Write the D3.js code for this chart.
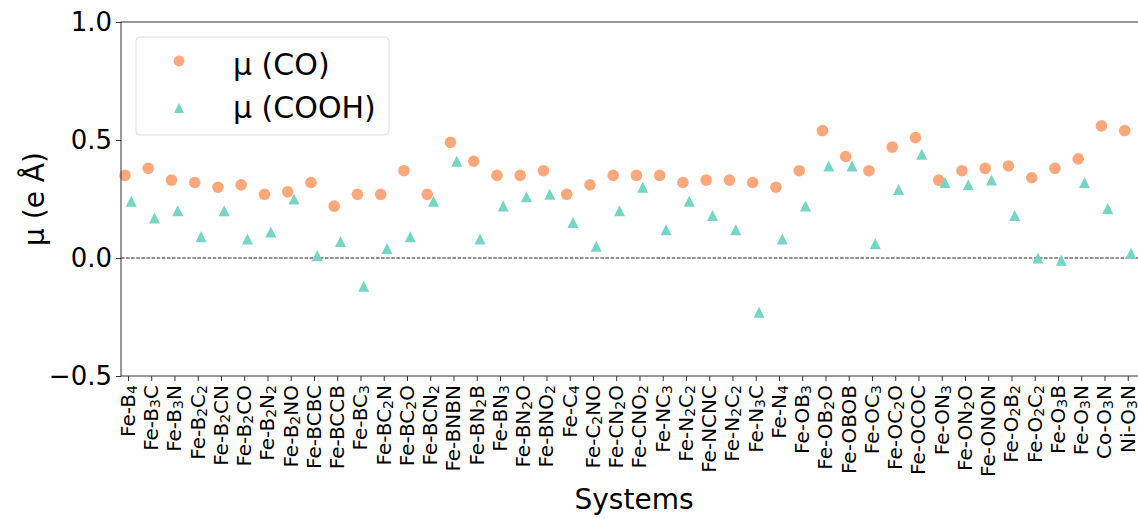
<!DOCTYPE html>
<html>
<head>
<meta charset="utf-8">
<script src="https://cdn.jsdelivr.net/npm/d3@7"></script>
<style>
  body { margin: 0; background: #fff; }
  svg { font-family: "DejaVu Sans", sans-serif; }
</style>
</head>
<body>
<svg id="drawing_region"></svg>
<script>
// digits in the system names are drawn as subscripts
const systems = ["Fe-B4", "Fe-B3C", "Fe-B3N", "Fe-B2C2", "Fe-B2CN", "Fe-B2CO", "Fe-B2N2", "Fe-B2NO",
    "Fe-BCBC", "Fe-BCCB", "Fe-BC3", "Fe-BC2N", "Fe-BC2O", "Fe-BCN2", "Fe-BNBN", "Fe-BN2B", "Fe-BN3",
    "Fe-BN2O", "Fe-BNO2", "Fe-C4", "Fe-C2NO", "Fe-CN2O", "Fe-CNO2", "Fe-NC3", "Fe-N2C2", "Fe-NCNC",
    "Fe-N2C2", "Fe-N3C", "Fe-N4", "Fe-OB3", "Fe-OB2O", "Fe-OBOB", "Fe-OC3", "Fe-OC2O", "Fe-OCOC",
    "Fe-ON3", "Fe-ON2O", "Fe-ONON", "Fe-O2B2", "Fe-O2C2", "Fe-O3B", "Fe-O3N", "Co-O3N", "Ni-O3N"];

const mu_co = [0.35, 0.38, 0.33, 0.32, 0.30, 0.31, 0.27, 0.28, 0.32, 0.22, 0.27, 0.27, 0.37, 0.27,
    0.49, 0.41, 0.35, 0.35, 0.37, 0.27, 0.31, 0.35, 0.35, 0.35, 0.32, 0.33, 0.33, 0.32, 0.30,
    0.37, 0.54, 0.43, 0.37, 0.47, 0.51, 0.33, 0.37, 0.38, 0.39, 0.34, 0.38, 0.42, 0.56, 0.54];

const mu_cooh = [0.24, 0.17, 0.20, 0.09, 0.20, 0.08, 0.11, 0.25, 0.01, 0.07, -0.12, 0.04, 0.09, 0.24,
    0.41, 0.08, 0.22, 0.26, 0.27, 0.15, 0.05, 0.20, 0.30, 0.12, 0.24, 0.18, 0.12, -0.23, 0.08,
    0.22, 0.39, 0.39, 0.06, 0.29, 0.44, 0.32, 0.31, 0.33, 0.18, 0.00, -0.01, 0.32, 0.21, 0.02];

const y_ticks = [-0.5, 0.0, 0.5, 1.0];
const series_names = ["μ (CO)", "μ (COOH)"];

const config = {
    width: 1138,
    height: 519,
    margin: { top: 22, right: -6, bottom: 143, left: 121 },
    co_color: "#fca87c",
    cooh_color: "#74d6c3"
};

// matplotlib style '^' marker: width == height
const triangle = {
    draw(context, size) {
        const h = Math.sqrt(size) / 2;
        context.moveTo(0, -h);
        context.lineTo(h, h);
        context.lineTo(-h, h);
        context.closePath();
    }
};

const svg = d3.select("#drawing_region")
    .attr("width", config.width)
    .attr("height", config.height);

const inner_width = config.width - config.margin.left - config.margin.right;
const inner_height = config.height - config.margin.top - config.margin.bottom;

const chart = svg.append("g")
    .attr("transform", `translate(${config.margin.left}, ${config.margin.top})`);

const xscale = d3.scaleLinear()
    .domain([-0.3, systems.length - 1 + 0.7])
    .range([0, inner_width]);

const yscale = d3.scaleLinear()
    .domain([-0.5, 1.0])
    .range([inner_height, 0]);

// zero line
chart.append("line")
    .attr("x1", 0)
    .attr("x2", inner_width)
    .attr("y1", yscale(0))
    .attr("y2", yscale(0))
    .attr("stroke", "#222")
    .attr("stroke-width", 1)
    .attr("stroke-dasharray", "3.5,1.6");

// points
chart.selectAll(".co")
    .data(mu_co)
    .enter()
    .append("circle")
    .attr("class", "co")
    .attr("cx", (d, i) => xscale(i - 0.13))
    .attr("cy", d => yscale(d))
    .attr("r", 5.8)
    .attr("fill", config.co_color);

chart.selectAll(".cooh")
    .data(mu_cooh)
    .enter()
    .append("path")
    .attr("class", "cooh")
    .attr("d", d3.symbol(triangle, 121))
    .attr("transform", (d, i) => `translate(${xscale(i + 0.14)}, ${yscale(d)})`)
    .attr("fill", config.cooh_color);

// y axis
const yaxis = d3.axisLeft(yscale)
    .tickValues(y_ticks)
    .tickFormat(d3.format(".1f"))
    .tickSize(5)
    .tickPadding(4);

const yaxis_group = chart.append("g").call(yaxis);
yaxis_group.select(".domain").remove();
yaxis_group.selectAll(".tick line").attr("stroke", "#333");
yaxis_group.selectAll(".tick text")
    .attr("font-size", 26)
    .attr("fill", "#000")
    .attr("font-family", "DejaVu Sans");

// x axis
const xaxis = d3.axisBottom(xscale)
    .tickValues(d3.range(systems.length))
    .tickFormat("")
    .tickSize(5);

const xaxis_group = chart.append("g")
    .attr("transform", `translate(0, ${inner_height})`)
    .call(xaxis);
xaxis_group.select(".domain").remove();
xaxis_group.selectAll(".tick line").attr("stroke", "#333");

const label_group = chart.append("g")
    .attr("font-size", 20)
    .attr("fill", "#000");

systems.forEach((name, i) => {
    const t = label_group.append("text").attr("text-anchor", "end");
    name.split(/(\d)/).filter(s => s.length).forEach(part => {
        const ts = t.append("tspan").text(part);
        if (/\d/.test(part)) ts.attr("font-size", 14).attr("baseline-shift", "-16%");
    });
    const box = t.node().getBBox();
    const shift = -(box.y + box.height / 2);
    t.attr("transform", `translate(${xscale(i)}, ${inner_height + 9}) rotate(-90) translate(0, ${shift})`);
});

// frame
chart.append("rect")
    .attr("x", 0)
    .attr("y", 0)
    .attr("width", inner_width)
    .attr("height", inner_height)
    .attr("fill", "none")
    .attr("stroke", "#333")
    .attr("stroke-width", 1);

// axis titles
svg.append("text")
    .attr("x", config.margin.left + 513)
    .attr("y", 509)
    .attr("text-anchor", "middle")
    .attr("font-size", 28)
    .text("Systems");

svg.append("text")
    .attr("transform", `translate(44, ${config.margin.top + inner_height / 2}) rotate(-90)`)
    .attr("text-anchor", "middle")
    .attr("font-size", 28)
    .text("μ (e Å)");

// legend
const legend = svg.append("g").attr("transform", "translate(136, 37)");

legend.append("rect")
    .attr("width", 253)
    .attr("height", 98)
    .attr("rx", 4)
    .attr("fill", "#fff")
    .attr("fill-opacity", 0.8)
    .attr("stroke", "#ddd");

legend.append("circle")
    .attr("cx", 43)
    .attr("cy", 24)
    .attr("r", 5.4)
    .attr("fill", config.co_color);

legend.append("path")
    .attr("d", d3.symbol(triangle, 100))
    .attr("transform", "translate(43, 71)")
    .attr("fill", config.cooh_color);

legend.selectAll(".legend_text")
    .data(series_names)
    .enter()
    .append("text")
    .attr("class", "legend_text")
    .attr("x", 97)
    .attr("y", (d, i) => 38 + i * 43)
    .attr("font-size", 30)
    .text(d => d);
</script>
</body>
</html>
